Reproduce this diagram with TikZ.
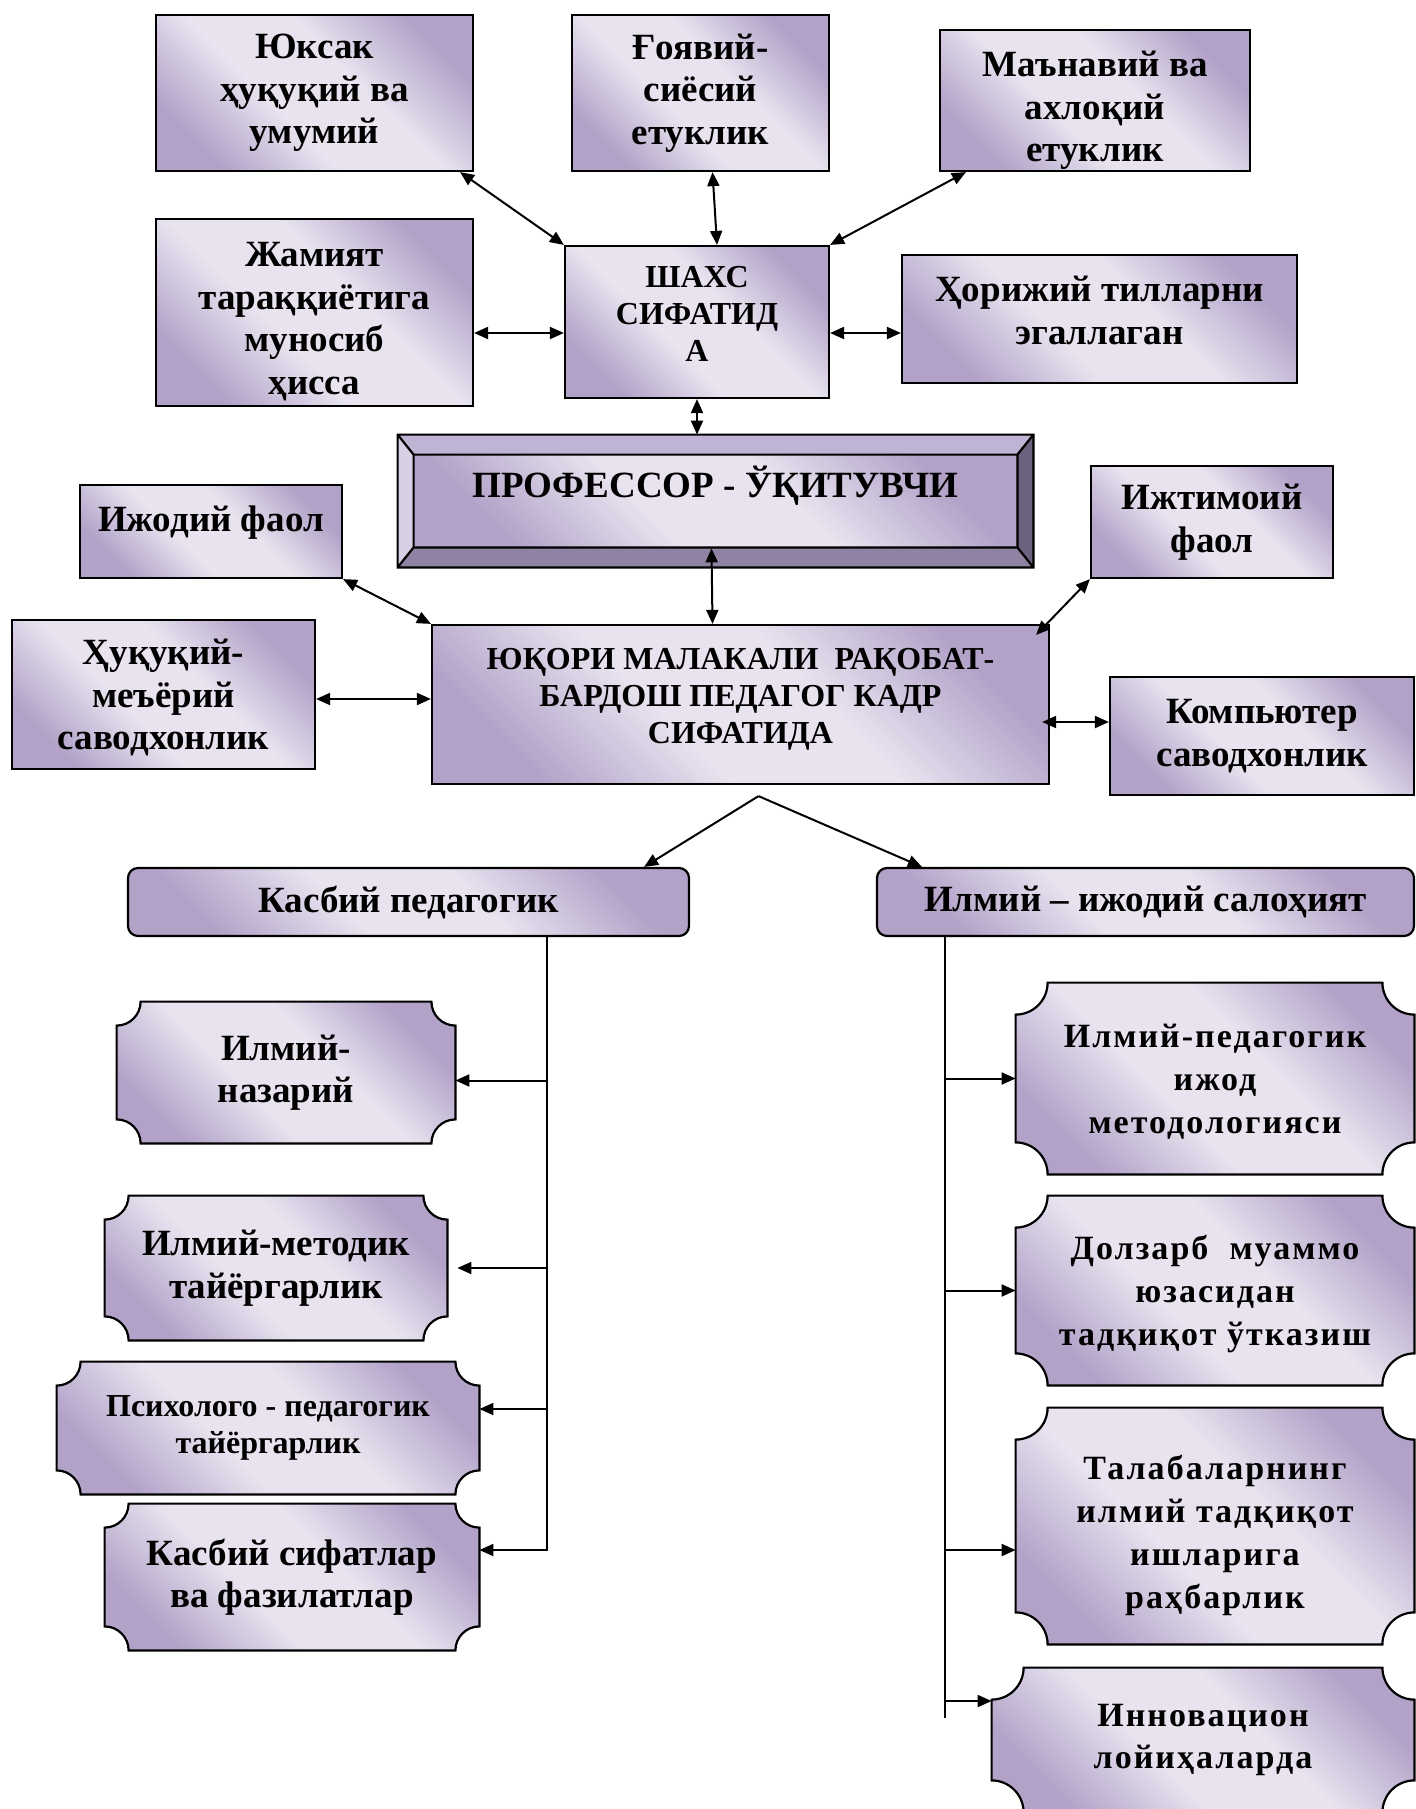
\documentclass[tikz,border=0pt]{standalone}
\usepackage{fontspec}
\setmainfont{Liberation Serif}
\newfontfamily\widefont[LetterSpace=6]{Liberation Serif}
\usetikzlibrary{arrows.meta,calc,backgrounds}
\definecolor{lavlight}{RGB}{232,227,239}
\definecolor{lavdark}{RGB}{178,162,200}
\definecolor{beveltop}{RGB}{192,180,212}
\definecolor{bevelleft}{RGB}{215,207,228}
\definecolor{bevelright}{RGB}{108,97,126}
\definecolor{bevelbottom}{RGB}{143,130,163}
\pgfdeclareverticalshading{lavshade}{100bp}{color(0bp)=(lavdark); color(25bp)=(lavdark);
  color(42bp)=(lavlight); color(58bp)=(lavlight); color(75bp)=(lavdark); color(100bp)=(lavdark)}
\tikzset{
  grad/.style={shading=lavshade, shading angle=-45},
  txt/.style={font=\bfseries\fontsize{18.5}{21.3}\selectfont, align=center, inner sep=0pt},
  small/.style={font=\bfseries\fontsize{16}{18.5}\selectfont},
  wide/.style={font=\widefont\bfseries\fontsize{17}{21.4}\selectfont},
  box/.style={txt, draw, line width=1.1pt, grad},
  rbox/.style={box, rounded corners=5pt},
  dbl/.style={{Triangle[length=7pt,width=6pt]}-{Triangle[length=7pt,width=6pt]}, line width=1pt},
  arr/.style={-{Triangle[length=7pt,width=6pt]}, line width=1pt}
}
% plaque outline round a node: name, corner radius
\newcommand\plaquepath[2]{%
  \path[draw, line width=1.1pt, grad]
    ([xshift=#2]#1.north west) -- ([xshift=-#2]#1.north east)
    arc[start angle=180, end angle=270, radius=#2]
    -- ([yshift=#2]#1.south east)
    arc[start angle=90, end angle=180, radius=#2]
    -- ([xshift=#2]#1.south west)
    arc[start angle=0, end angle=90, radius=#2]
    -- ([yshift=-#2]#1.north west)
    arc[start angle=270, end angle=360, radius=#2]
    -- cycle;}
\begin{document}
\begin{tikzpicture}[x=0.5pt,y=-0.5pt]
\useasboundingbox (0,0) rectangle (1416,1809);
% top row
\node[box, minimum width=158.5pt, minimum height=78pt] (yuksak) at (314.5,93) {Юксак\\ҳуқуқий ва\\умумий};
\node[box, minimum width=128.5pt, minimum height=78pt] (goya) at (700.5,93) {Ғоявий-\\сиёсий\\етуклик};
\node[box, minimum width=155pt, minimum height=70.5pt, text height=61.2pt, text depth=0pt] (manaviy) at (1095,100.5) {Маънавий ва\\ахлоқий\\етуклик};
\node[box, minimum width=158.5pt, minimum height=93.5pt, text height=81.9pt, text depth=0pt] (jamiyat) at (314.5,312.5) {Жамият\\тараққиётига\\муносиб\\ҳисса};
\node[box, small, minimum width=132pt, minimum height=76pt, text depth=7.9pt] (shaxs) at (697,322) {ШАХС\\СИФАТИД\\А};
\node[box, minimum width=197.5pt, minimum height=64pt, text depth=8.6pt] (horij) at (1099.5,319) {Ҳорижий тилларни\\эгаллаган};
% centre
\node[txt, minimum width=317.5pt, minimum height=66pt, text height=12pt, text depth=16pt] (prof) at (715.5,501) {ПРОФЕССОР - ЎҚИТУВЧИ};
\node[box, minimum width=131pt, minimum height=46.5pt, text height=12pt, text depth=12pt] (ijodiy) at (211,531.5) {Ижодий фаол};
\node[box, minimum width=121pt, minimum height=56pt] (ijtimoiy) at (1212,522) {Ижтимоий\\фаол};
\node[box, small, minimum width=308.5pt, minimum height=79.5pt, text depth=9pt] (yuqori) at (740.5,704.5) {ЮҚОРИ МАЛАКАЛИ~~РАҚОБАТ-\\БАРДОШ ПЕДАГОГ КАДР\\СИФАТИДА};
\node[box, minimum width=151.5pt, minimum height=74.5pt, text depth=0pt] (huquqiy) at (163.5,694.5) {Ҳуқуқий-\\меъёрий\\саводхонлик};
\node[box, minimum width=152pt, minimum height=59pt] (komp) at (1262,736) {Компьютер\\саводхонлик};
\node[rbox, minimum width=280.5pt, minimum height=34pt] (kasbiy) at (408.5,902) {Касбий педагогик};
\node[rbox, minimum width=268.5pt, minimum height=34pt] (ilmiy) at (1145.5,902) {Илмий – ижодий салоҳият};
% plaques
\node[txt, minimum width=169pt, minimum height=70.5pt] (nazariy) at (286,1072.5) {Илмий-\\назарий};
\node[txt, minimum width=171pt, minimum height=72pt] (metodik) at (276,1268) {Илмий-методик\\тайёргарлик};
\node[txt, small, minimum width=211pt, minimum height=66pt] (psixolog) at (268,1428) {Психолого - педагогик\\тайёргарлик};
\node[txt, minimum width=187pt, minimum height=73pt] (sifat) at (292,1577) {Касбий сифатлар\\ва фазилатлар};
\node[txt, wide, minimum width=199pt, minimum height=95.5pt, text depth=0pt] (ilmped) at (1215,1078.5) {Илмий-педагогик\\ижод\\методологияси};
\node[txt, wide, minimum width=199pt, minimum height=94.5pt, text depth=0pt] (dolzarb) at (1215,1290.5) {Долзарб~~муаммо\\юзасидан\\тадқиқот ўтказиш};
\node[txt, wide, minimum width=199pt, minimum height=118pt, text height=82.3pt, text depth=0pt] (talaba) at (1215,1526) {Талабаларнинг\\илмий тадқиқот\\ишларига\\раҳбарлик};
\node[txt, wide, minimum width=211pt, minimum height=72pt] (innov) at (1203,1740) {Инновацион\\лойиҳаларда};
\begin{scope}[on background layer]
  \fill[white] (0,0) rectangle (1416,1809);
  \plaquepath{nazariy}{12pt}
  \plaquepath{metodik}{12pt}
  \plaquepath{psixolog}{12pt}
  \plaquepath{sifat}{12pt}
  \plaquepath{ilmped}{16pt}
  \plaquepath{dolzarb}{16pt}
  \plaquepath{talaba}{16pt}
  \plaquepath{innov}{16pt}
  % bevel of the centre box
  \coordinate (inw) at ([shift={(8pt,-10pt)}]prof.north west);
  \coordinate (ine) at ([shift={(-8pt,-10pt)}]prof.north east);
  \coordinate (ise) at ([shift={(-8pt,10pt)}]prof.south east);
  \coordinate (isw) at ([shift={(8pt,10pt)}]prof.south west);
  \fill[beveltop] (prof.north west) -- (prof.north east) -- (ine) -- (inw) -- cycle;
  \fill[bevelleft] (prof.north west) -- (inw) -- (isw) -- (prof.south west) -- cycle;
  \fill[bevelright] (prof.north east) -- (prof.south east) -- (ise) -- (ine) -- cycle;
  \fill[bevelbottom] (prof.south west) -- (isw) -- (ise) -- (prof.south east) -- cycle;
  \shade[grad] (inw) rectangle (ise);
  \draw[line width=1.1pt] (prof.north west) rectangle (prof.south east) (inw) rectangle (ise)
    (prof.north west) -- (inw) (prof.north east) -- (ine) (prof.south east) -- (ise) (prof.south west) -- (isw);
\end{scope}
% connectors
\draw[dbl] ($(yuksak.south east)+(-14,0)$) -- (shaxs.north west);
\draw[dbl] ($(goya.south)+(12,0)$) -- ($(shaxs.north)+(20,0)$);
\draw[dbl] ($(manaviy.south west)+(27,0)$) -- (shaxs.north east);
\draw[dbl] ($(jamiyat.east)+(0,20.5)$) -- ($(shaxs.west)+(0,11)$);
\draw[dbl] ($(shaxs.east)+(0,11)$) -- ($(horij.west)+(0,14)$);
\draw[dbl] (shaxs.south) -- (shaxs.south |- prof.north);
\draw[dbl] ($(prof.south)+(-4,-19)$) -- ($(yuqori.north)+(-28,0)$);
\draw[dbl] (ijodiy.south east) -- (yuqori.north west);
\draw[dbl] (ijtimoiy.south west) -- ($(yuqori.north east)+(-14,11)$);
\draw[dbl] ($(huquqiy.east)+(0,4.5)$) -- ($(yuqori.west)+(0,-5.5)$);
\draw[dbl] ($(yuqori.east)+(-8,17.5)$) -- ($(komp.west)+(0,-14)$);
\coordinate (apex) at ($(yuqori.south)+(18,11)$);
\draw[arr] (apex) -- ($(kasbiy.north east)+(-46,0)$);
\draw[arr] (apex) -- ($(ilmiy.north west)+(46,0)$);
% left trunk
\coordinate (ltop) at ($(kasbiy.south west)+(420,0)$);
\draw[line width=1pt] (ltop) -- ++(0,614);
\draw[arr] ($(nazariy.east)+(93,8)$) -- ($(nazariy.east)+(0,8)$);
\draw[arr] ($(metodik.east)+(101,0)$) -- ($(metodik.east)+(10,0)$);
\draw[arr] ($(psixolog.east)+(69,-19)$) -- ($(psixolog.east)+(0,-19)$);
\draw[arr] ($(sifat.east)+(69,-27)$) -- ($(sifat.east)+(0,-27)$);
% right trunk
\coordinate (rtop) at ($(ilmiy.south west)+(69,0)$);
\draw[line width=1pt] (rtop) -- ++(0,781);
\draw[arr] ($(ilmped.west)+(-70,0)$) -- (ilmped.west);
\draw[arr] ($(dolzarb.west)+(-70,0)$) -- (dolzarb.west);
\draw[arr] ($(talaba.west)+(-70,24)$) -- ($(talaba.west)+(0,24)$);
\draw[arr] ($(innov.west)+(-46,-39)$) -- ($(innov.west)+(0,-39)$);
\end{tikzpicture}
\end{document}
